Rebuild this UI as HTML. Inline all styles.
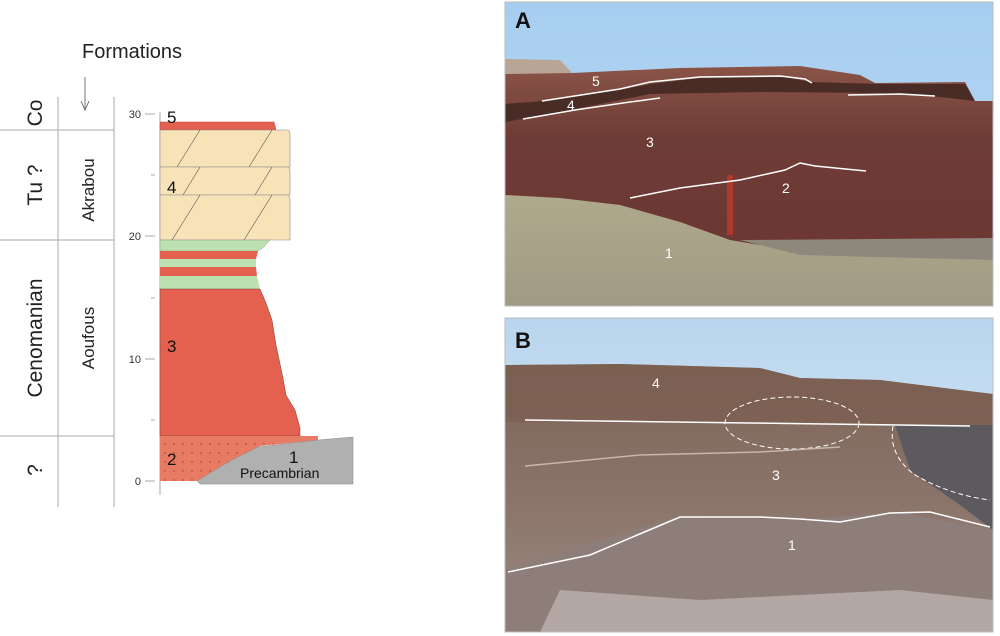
<!DOCTYPE html>
<html><head><meta charset="utf-8"><style>
html,body{margin:0;padding:0;background:#fff;}
svg{display:block;font-family:"Liberation Sans",Arial,sans-serif;}
</style></head><body>
<svg width="1000" height="636" viewBox="0 0 1000 636" xmlns="http://www.w3.org/2000/svg">
<defs>
<pattern id="dots" width="9" height="9" patternUnits="userSpaceOnUse"><rect width="9" height="9" fill="#e87b64"/><circle cx="3" cy="3" r="0.7" fill="#a03a2a"/></pattern>
<linearGradient id="skyA" x1="0" y1="0" x2="0" y2="1"><stop offset="0" stop-color="#a6cdf0"/><stop offset="1" stop-color="#c0dcf3"/></linearGradient>
<linearGradient id="redA" x1="0" y1="0" x2="0" y2="1"><stop offset="0" stop-color="#8a5448"/><stop offset="0.3" stop-color="#6e3c36"/><stop offset="1" stop-color="#6a3432"/></linearGradient>
<linearGradient id="begA" x1="0" y1="0" x2="0" y2="1"><stop offset="0" stop-color="#b0a98c"/><stop offset="1" stop-color="#a09a84"/></linearGradient>
<linearGradient id="skyB" x1="0" y1="0" x2="0" y2="1"><stop offset="0" stop-color="#b9d6ee"/><stop offset="1" stop-color="#e1edf6"/></linearGradient>
<linearGradient id="grB" x1="0" y1="0" x2="0" y2="1"><stop offset="0" stop-color="#7d6458"/><stop offset="0.5" stop-color="#8a7469"/><stop offset="1" stop-color="#9c8a83"/></linearGradient>
</defs>

<!-- Left table -->
<text x="82" y="58" font-size="20" fill="#222">Formations</text>
<line x1="85" y1="77" x2="85" y2="108" stroke="#555" stroke-width="0.8"/>
<polyline points="81,101 85,110 89,101" fill="none" stroke="#555" stroke-width="0.8"/>
<g stroke="#aaa" stroke-width="1">
<line x1="58" y1="97" x2="58" y2="507"/>
<line x1="114" y1="97" x2="114" y2="507"/>
<line x1="0" y1="130" x2="114" y2="130"/>
<line x1="0" y1="240" x2="114" y2="240"/>
<line x1="0" y1="436" x2="114" y2="436"/>
</g>
<g font-size="21" fill="#222">
<text transform="translate(42,113) rotate(-90)" text-anchor="middle">Co</text>
<text transform="translate(42,185) rotate(-90)" text-anchor="middle">Tu ?</text>
<text transform="translate(42,338) rotate(-90)" text-anchor="middle">Cenomanian</text>
<text transform="translate(42,470) rotate(-90)" text-anchor="middle">?</text>
</g>
<g font-size="17" fill="#222">
<text transform="translate(94,190) rotate(-90)" text-anchor="middle">Akrabou</text>
<text transform="translate(94,338) rotate(-90)" text-anchor="middle">Aoufous</text>
</g>

<!-- axis -->
<line x1="160" y1="112" x2="160" y2="495" stroke="#aaa" stroke-width="1"/>
<g stroke="#aaa" stroke-width="1">
<line x1="145" y1="114" x2="155" y2="114"/><line x1="151" y1="175" x2="155" y2="175"/>
<line x1="145" y1="236" x2="155" y2="236"/><line x1="151" y1="298" x2="155" y2="298"/>
<line x1="145" y1="359" x2="155" y2="359"/><line x1="151" y1="420" x2="155" y2="420"/>
<line x1="145" y1="481" x2="155" y2="481"/>
</g>
<g font-size="11" fill="#333" text-anchor="end">
<text x="141" y="118">30</text><text x="141" y="240">20</text><text x="141" y="363">10</text><text x="141" y="485">0</text>
</g>

<!-- column -->
<path d="M160,122 L274,122 L276,130 L160,130Z" fill="#e46150" stroke="#b44" stroke-width="0.5"/>
<g fill="#f8e3b8" stroke="#888" stroke-width="0.6">
<path d="M160,130 L287,130 Q290,130 290,134 L290,167 L160,167Z"/>
<path d="M160,167 L287,167 Q290,167 290,171 L290,195 L160,195Z"/>
<path d="M160,195 L287,195 Q290,195 290,199 L290,240 L160,240Z"/>
</g>
<g stroke="#555" stroke-width="0.6">
<line x1="200" y1="130" x2="177" y2="167"/><line x1="272" y1="130" x2="249" y2="167"/>
<line x1="200" y1="167" x2="183" y2="195"/><line x1="272" y1="167" x2="255" y2="195"/>
<line x1="200" y1="195" x2="172" y2="240"/><line x1="272" y1="195" x2="244" y2="240"/>
</g>
<path d="M160,240 L270,240 L264,247 L258,251 L160,251Z" fill="#bde0b0" stroke="#888" stroke-width="0.4"/>
<path d="M160,251 L258,251 L256,259 L160,259Z" fill="#e46150"/>
<path d="M160,259 L256,259 L256,267 L160,267Z" fill="#bde0b0"/>
<path d="M160,267 L256,267 L257,276 L160,276Z" fill="#e46150"/>
<path d="M160,276 L257,276 L260,289 L160,289Z" fill="#bde0b0"/>
<path d="M160,289 L260,289 L266,303 L272,320 L276,345 L283,378 L286,395 L295,410 L300,428 L300,436 L160,436Z" fill="#e46150" stroke="#7a3a32" stroke-width="0.5"/>
<path d="M160,436 L318,436 L318,440 L260,446 L230,461 L197,481 L160,481Z" fill="url(#dots)"/>
<path d="M197,481 L230,461 L258,447 L318,440 L353,437 L353,484 L200,484Z" fill="#b0b0b0" stroke="#888" stroke-width="0.5"/>
<g font-size="17" fill="#111">
<text x="167" y="123">5</text><text x="167" y="193">4</text><text x="167" y="352">3</text><text x="167" y="465">2</text><text x="289" y="463">1</text>
</g>
<text x="240" y="478" font-size="14" fill="#111">Precambrian</text>

<!-- Photo A -->
<g>
<rect x="505" y="2" width="488" height="304" fill="url(#skyA)"/>
<path d="M505,59 L560,60 L572,73 L505,78Z" fill="#b9a595"/>
<path d="M505,74 L572,73 L680,68 L800,66 L860,75 L875,83 L965,82 L975,101 L993,101 L993,306 L505,306Z" fill="url(#redA)"/>
<path d="M505,104 L545,101 L625,89 L650,84 L700,78 L785,77 L810,82 L880,84 L965,84 L975,101 L940,97 L880,93 L760,92 L650,94 L560,112 L505,122Z" fill="#4a2c27"/>
<path d="M505,195 L560,198 L620,205 L680,222 L730,240 L760,245 L993,245 L993,306 L505,306Z" fill="url(#begA)"/>
<path d="M740,240 L993,238 L993,260 L800,255Z" fill="#8e887c"/>
<rect x="727" y="175" width="6" height="60" fill="#c0392b" opacity="0.8"/>
<g fill="none" stroke="#fff" stroke-width="1.5">
<path d="M542,101 L620,89 L650,82 L700,77 L780,76 L805,79 L812,83"/>
<path d="M523,119 L575,110 L630,102 L660,98"/>
<path d="M848,95 L900,94 L935,96"/>
<path d="M630,198 L680,188 L740,180 L785,170 L800,163 L815,166 L866,171"/>
</g>
<g font-size="14" fill="#fff">
<text x="592" y="86">5</text><text x="567" y="110">4</text><text x="646" y="147">3</text><text x="782" y="193">2</text><text x="665" y="258">1</text>
</g>
<text x="515" y="28" font-size="22" font-weight="bold" fill="#111">A</text>
<rect x="505" y="2" width="488" height="304" fill="none" stroke="#bbb" stroke-width="1"/>
</g>

<!-- Photo B -->
<g>
<rect x="505" y="318" width="488" height="314" fill="url(#skyB)"/>
<path d="M505,365 L620,364 L760,368 L800,378 L880,380 L960,390 L993,394 L993,632 L505,632Z" fill="url(#grB)"/>
<path d="M505,365 L620,364 L760,368 L800,378 L880,380 L960,390 L993,394 L993,425 L505,422Z" fill="#7a5e50" opacity="0.7"/>
<path d="M895,425 L993,425 L993,530 L960,505 L910,470Z" fill="#5c5a5e"/>
<path d="M505,570 L600,540 L680,517 L800,520 L900,512 L993,530 L993,632 L505,632Z" fill="#8e7e79"/>
<path d="M560,590 L700,600 L900,590 L993,600 L993,632 L540,632Z" fill="#b3a7a3"/>
<g fill="none" stroke="#fff" stroke-width="1.5">
<path d="M525,420 L750,423 L970,426"/>
<path d="M508,572 L590,555 L680,517 L760,517 L800,519 L840,522 L890,513 L930,512 L990,527"/>
</g>
<g fill="none" stroke="#fff" stroke-width="1" stroke-dasharray="5,3">
<ellipse cx="792" cy="423" rx="67" ry="26"/>
<path d="M893,426 Q888,455 915,475 Q950,495 990,500"/>
</g>
<path d="M525,466 L640,455 L760,452 L840,447" fill="none" stroke="#c9b5ad" stroke-width="1.5"/>
<g font-size="14" fill="#fff">
<text x="652" y="388">4</text><text x="772" y="480">3</text><text x="788" y="550">1</text>
</g>
<text x="515" y="348" font-size="22" font-weight="bold" fill="#111">B</text>
<rect x="505" y="318" width="488" height="314" fill="none" stroke="#bbb" stroke-width="1"/>
</g>
</svg>
</body></html>
